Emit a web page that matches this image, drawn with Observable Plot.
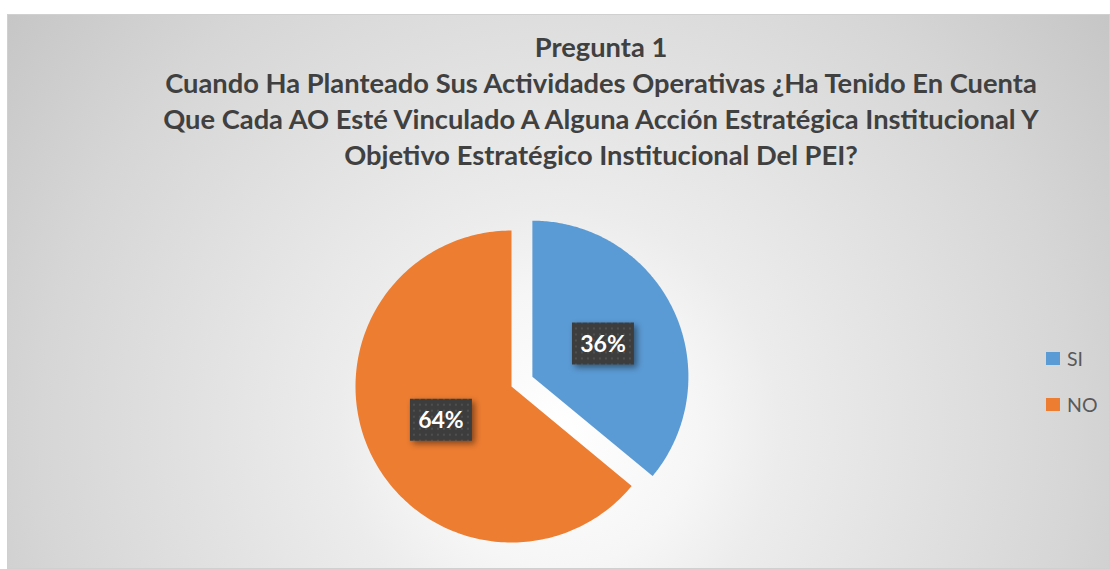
<!DOCTYPE html>
<html>
<head>
<meta charset="utf-8">
<script src="https://cdn.jsdelivr.net/npm/d3@7"></script>
<script src="https://cdn.jsdelivr.net/npm/@observablehq/plot@0.6"></script>
<style>
  html, body { margin: 0; padding: 0; background: #ffffff; width: 1110px; height: 569px; overflow: hidden; }
  #frame {
    position: absolute; left: 7px; top: 14px; width: 1103px; height: 555px;
    box-sizing: border-box; border: 1px solid #d0d0d0;
    background: radial-gradient(circle at 50% 75%, #ffffff 0%, #f6f6f6 20%, #ececec 32%, #d6d6d6 75%, #c6c6c6 100%);
    font-family: Lato, "Open Sans", sans-serif;
  }
  #title {
    position: absolute; left: 0; width: 1186px; top: 14px; text-align: center;
    font-weight: bold; font-size: 27.3px; line-height: 36px; color: #404040;
  }
  #chart { position: absolute; left: 303px; top: 171px; }
  #legend { position: absolute; left: 1038px; top: 332px; color: #595959; font-size: 19.5px; }
  .item { display: flex; align-items: center; height: 22px; margin-bottom: 24px; }
  .sw { width: 14px; height: 13px; margin-right: 7px; }
</style>
</head>
<body>
<div id="frame">
  <div id="title"></div>
  <div id="chart"></div>
  <div id="legend"></div>
</div>
<script>
const titleLines = [
  "Pregunta 1",
  "Cuando Ha Planteado Sus Actividades Operativas ¿Ha Tenido En Cuenta",
  "Que Cada AO Esté Vinculado A Alguna Acción Estratégica Institucional Y",
  "Objetivo Estratégico Institucional Del PEI?"
];
const categories = ["SI", "NO"];
const values = [36, 64];
const labels = ["36%", "64%"];
const colors = ["#5B9BD5", "#ED7D31"];
const explode = [0.148, 0];

// title
const t = document.getElementById("title");
titleLines.forEach(l => { const d = document.createElement("div"); d.textContent = l; t.appendChild(d); });

// pie geometry (angles clockwise from top, y up)
const arcs = d3.pie().sort(null).startAngle(0).endAngle(2 * Math.PI)(values);
const poly = [];
const labelPts = [];
arcs.forEach((a, i) => {
  const mid = (a.startAngle + a.endAngle) / 2;
  const cx = explode[i] * Math.sin(mid), cy = explode[i] * Math.cos(mid);
  poly.push({cat: categories[i], x: cx, y: cy});
  const n = 200;
  for (let k = 0; k <= n; k++) {
    const ang = a.startAngle + (a.endAngle - a.startAngle) * k / n;
    poly.push({cat: categories[i], x: cx + Math.sin(ang), y: cy + Math.cos(ang)});
  }
  poly.push({cat: categories[i], x: cx, y: cy});
  labelPts.push({cat: categories[i], label: labels[i], x: cx + 0.5 * Math.sin(mid), y: cy + 0.5 * Math.cos(mid)});
});

const S = 200 / 156;
const box = { draw(ctx) { ctx.rect(-31, -21, 62, 42); } };
const plot = Plot.plot({
  width: 400, height: 400, margin: 0,
  x: {domain: [-S, S], axis: null},
  y: {domain: [-S, S], axis: null},
  color: {domain: categories, range: colors},
  marks: [
    Plot.line(poly, {x: "x", y: "y", z: "cat", fill: "cat", stroke: null, curve: "linear"}),
    Plot.dot(labelPts, {x: "x", y: "y", symbol: box, r: 10, fill: "url(#dots)", stroke: null}),
    Plot.text(labelPts, {x: "x", y: "y", text: "label", fill: "white", fontWeight: "bold", fontSize: 23, fontFamily: "Lato", dy: 1})
  ]
});
plot.style.background = "transparent";
plot.style.overflow = "visible";
const ns = "http://www.w3.org/2000/svg";
const defs = document.createElementNS(ns, "defs");
defs.innerHTML = `<pattern id="dots" width="6" height="6" patternUnits="userSpaceOnUse">
  <rect width="6" height="6" fill="#3d3d3d"/><rect x="2" y="2" width="2" height="2" fill="#4f4f4f"/></pattern>`;
plot.insertBefore(defs, plot.firstChild);
plot.querySelectorAll('g[aria-label="dot"] path').forEach(p => p.style.filter = "drop-shadow(3px 3px 3px rgba(0,0,0,0.45))");
document.getElementById("chart").appendChild(plot);

// legend
const lg = document.getElementById("legend");
categories.forEach((c, i) => {
  const it = document.createElement("div"); it.className = "item";
  const sw = document.createElement("div"); sw.className = "sw"; sw.style.background = colors[i];
  const tx = document.createElement("span"); tx.textContent = c;
  it.appendChild(sw); it.appendChild(tx); lg.appendChild(it);
});
</script>
</body>
</html>
